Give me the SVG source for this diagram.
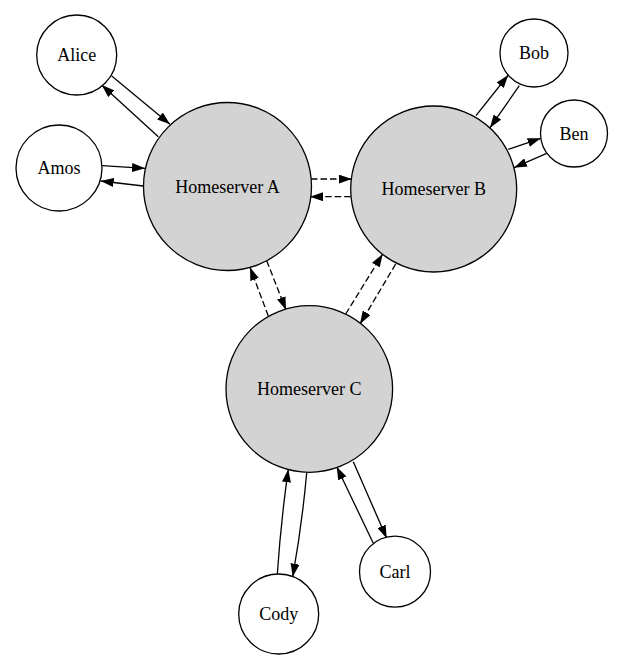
<svg xmlns="http://www.w3.org/2000/svg" width="623" height="671" viewBox="0 0 623 671">
<style>
.n{fill:#fff;stroke:#000;stroke-width:1.3}
.h{fill:#d3d3d3;stroke:#000;stroke-width:1.3}
text{font-family:"Liberation Serif","Times New Roman",serif;font-size:18px;text-anchor:middle;dominant-baseline:central;fill:#000}
.e{fill:none;stroke:#000;stroke-width:1.3;marker-end:url(#a)}
.d{stroke-dasharray:6.5,3}
</style>
<defs>
<marker id="a" markerUnits="userSpaceOnUse" markerWidth="13" markerHeight="9" refX="13" refY="4.5" orient="auto" viewBox="0 0 13 9">
<path d="M0,0 L13,4.5 L0,9 z" fill="#000"/>
</marker>
</defs>
<rect width="623" height="671" fill="#fff"/>
<g id="edges">
<line class="e" x1="111.7" y1="76" x2="170" y2="124.3"/>
<line class="e" x1="158.3" y1="136.7" x2="101.7" y2="85"/>
<line class="e" x1="102.3" y1="165.7" x2="145" y2="168.3"/>
<line class="e" x1="143.3" y1="186" x2="100.7" y2="181"/>
<line class="e d" x1="311" y1="179" x2="351.7" y2="179"/>
<line class="e d" x1="350.7" y1="196.7" x2="310" y2="196.7"/>
<line class="e" x1="476" y1="115.7" x2="508.3" y2="75"/>
<line class="e" x1="519.3" y1="85.7" x2="490" y2="127.7"/>
<line class="e" x1="508.3" y1="149.3" x2="540.7" y2="138.3"/>
<line class="e" x1="546.7" y1="153.3" x2="514" y2="167.7"/>
<line class="e d" x1="268.3" y1="316" x2="250" y2="267.3"/>
<line class="e d" x1="266.7" y1="260.7" x2="286" y2="310"/>
<line class="e d" x1="345.7" y1="314" x2="382.7" y2="254"/>
<line class="e d" x1="395.7" y1="264" x2="360" y2="324"/>
<path class="e" d="M277.3,574.3 Q281,520 288.3,469.3"/>
<path class="e" d="M306.7,472.7 Q302,525 292.7,576.7"/>
<line class="e" x1="373.3" y1="543.3" x2="336.7" y2="466.7"/>
<line class="e" x1="353.3" y1="461.7" x2="386.7" y2="538.3"/>
</g>
<g id="alice"><circle class="n" cx="76.7" cy="55" r="40"/><text x="76.7" y="55">Alice</text></g>
<g id="amos"><circle class="n" cx="59" cy="168" r="43"/><text x="59" y="168">Amos</text></g>
<g id="hsa"><circle class="h" cx="227.5" cy="186.5" r="84"/><text x="227.5" y="186.5">Homeserver A</text></g>
<g id="hsb"><circle class="h" cx="433.7" cy="189" r="83"/><text x="433.7" y="189">Homeserver B</text></g>
<g id="bob"><circle class="n" cx="534" cy="53" r="34"/><text x="534" y="53">Bob</text></g>
<g id="ben"><circle class="n" cx="574" cy="133.5" r="33.5"/><text x="574" y="133.5">Ben</text></g>
<g id="hsc"><circle class="h" cx="309.3" cy="389" r="83.3"/><text x="309.3" y="389">Homeserver C</text></g>
<g id="cody"><circle class="n" cx="278.7" cy="614" r="40"/><text x="278.7" y="614">Cody</text></g>
<g id="carl"><circle class="n" cx="395" cy="571.7" r="35.5"/><text x="395" y="571.7">Carl</text></g>
</svg>
